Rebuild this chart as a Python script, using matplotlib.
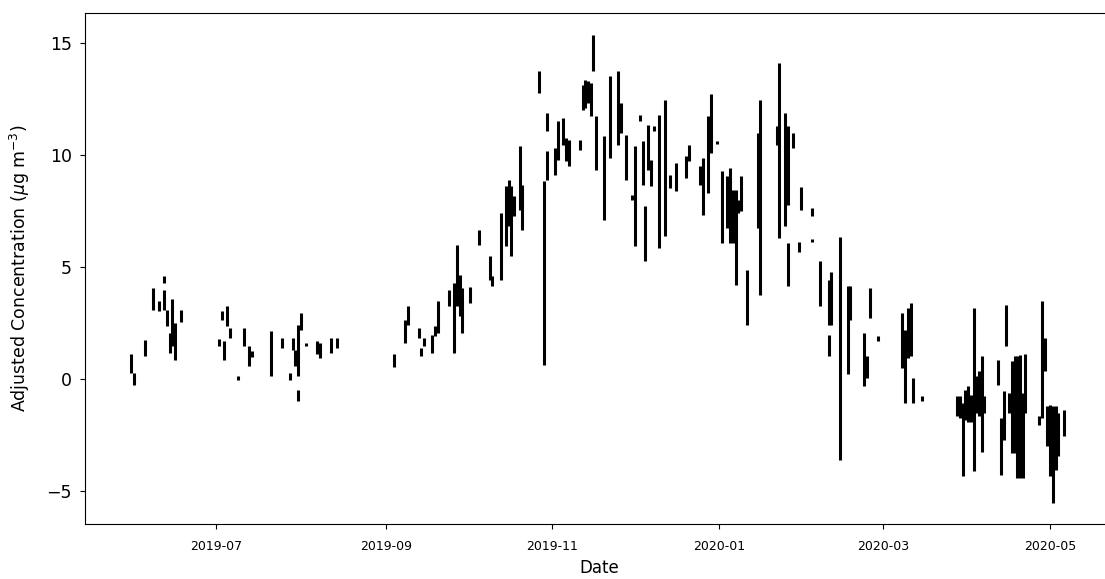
import matplotlib
matplotlib.use('Agg')
import matplotlib.pyplot as plt
import pandas as pd

# Daily spread of the hourly adjusted concentration (top and bottom of each day's trace)
seg_dates = [
    '2019-05-31', '2019-06-01', '2019-06-05', '2019-06-08', '2019-06-10', '2019-06-12',
    '2019-06-12', '2019-06-13', '2019-06-14', '2019-06-15', '2019-06-16', '2019-06-18',
    '2019-07-02', '2019-07-03', '2019-07-04', '2019-07-05', '2019-07-06', '2019-07-09',
    '2019-07-11', '2019-07-13', '2019-07-14', '2019-07-21', '2019-07-25', '2019-07-28',
    '2019-07-29', '2019-07-30', '2019-07-31', '2019-07-31', '2019-08-01', '2019-08-03',
    '2019-08-07', '2019-08-08', '2019-08-12', '2019-08-14', '2019-09-04', '2019-09-08',
    '2019-09-09', '2019-09-13', '2019-09-14', '2019-09-15', '2019-09-18', '2019-09-19',
    '2019-09-20', '2019-09-24', '2019-09-26', '2019-09-27', '2019-09-28', '2019-09-29',
    '2019-10-02', '2019-10-05', '2019-10-09', '2019-10-10', '2019-10-13', '2019-10-15',
    '2019-10-16', '2019-10-17', '2019-10-18', '2019-10-20', '2019-10-21', '2019-10-27',
    '2019-10-29', '2019-10-30', '2019-10-30', '2019-11-02', '2019-11-03', '2019-11-05',
    '2019-11-06', '2019-11-07', '2019-11-11', '2019-11-12', '2019-11-13', '2019-11-14',
    '2019-11-15', '2019-11-16', '2019-11-17', '2019-11-20', '2019-11-22', '2019-11-25',
    '2019-11-26', '2019-11-28', '2019-11-30', '2019-12-01', '2019-12-03', '2019-12-04',
    '2019-12-05', '2019-12-06', '2019-12-07', '2019-12-08', '2019-12-10', '2019-12-12',
    '2019-12-14', '2019-12-16', '2019-12-20', '2019-12-21', '2019-12-25', '2019-12-26',
    '2019-12-28', '2019-12-29', '2019-12-31', '2020-01-02', '2020-01-04', '2020-01-05',
    '2020-01-06', '2020-01-07', '2020-01-08', '2020-01-09', '2020-01-11', '2020-01-15',
    '2020-01-16', '2020-01-22', '2020-01-23', '2020-01-25', '2020-01-26', '2020-01-26',
    '2020-01-28', '2020-01-30', '2020-01-31', '2020-02-04', '2020-02-04', '2020-02-07',
    '2020-02-10', '2020-02-10', '2020-02-11', '2020-02-14', '2020-02-17', '2020-02-18',
    '2020-02-23', '2020-02-24', '2020-02-25', '2020-02-28', '2020-03-08', '2020-03-09',
    '2020-03-10', '2020-03-11', '2020-03-12', '2020-03-15', '2020-03-28', '2020-03-29',
    '2020-03-30', '2020-03-31', '2020-04-01', '2020-04-02', '2020-04-03', '2020-04-04',
    '2020-04-05', '2020-04-06', '2020-04-07', '2020-04-12', '2020-04-13', '2020-04-14',
    '2020-04-15', '2020-04-16', '2020-04-17', '2020-04-18', '2020-04-19', '2020-04-20',
    '2020-04-21', '2020-04-22', '2020-04-27', '2020-04-28', '2020-04-29', '2020-04-30',
    '2020-05-01', '2020-05-02', '2020-05-03', '2020-05-04', '2020-05-06',
]
seg_high = [
    1.13, 0.27, 1.76, 4.06, 3.47, 4.58,
    3.99, 3.10, 2.05, 3.57, 2.50, 3.10,
    1.79, 3.02, 1.68, 3.24, 2.28, 0.12,
    2.28, 1.46, 1.24, 2.13, 1.83, 0.27,
    1.83, 1.31, 2.43, -0.48, 2.95, 1.60,
    1.68, 1.60, 1.83, 1.83, 1.10, 2.65,
    3.24, 2.28, 1.38, 1.83, 1.98, 2.35,
    3.47, 3.99, 4.29, 6.00, 4.66, 4.06,
    4.11, 6.67, 5.48, 4.58, 7.41, 8.60,
    8.90, 8.60, 8.15, 10.39, 8.68, 13.73,
    8.82, 11.88, 10.16, 10.31, 11.50, 11.65,
    10.76, 10.68, 10.68, 13.14, 13.36, 13.29,
    13.21, 15.37, 11.73, 10.83, 13.51, 13.73,
    12.32, 10.91, 8.23, 10.39, 11.79, 10.61,
    7.71, 11.35, 9.79, 11.28, 11.80, 12.44,
    9.12, 9.64, 9.94, 10.46, 9.49, 9.87,
    11.73, 12.74, 10.64, 9.27, 9.05, 9.42,
    8.45, 8.45, 8.00, 9.05, 4.88, 10.98,
    12.47, 11.28, 14.10, 11.88, 11.28, 6.07,
    10.98, 6.10, 8.57, 7.63, 6.26, 5.25,
    4.43, 1.98, 4.76, 6.34, 4.14, 4.14,
    2.05, 1.01, 4.05, 1.93, 2.95, 2.20,
    3.18, 3.39, 0.04, -0.74, -0.77, -0.77,
    -1.07, -0.48, -0.33, -0.70, 3.17, 0.12,
    0.34, 1.01, -0.77, 0.86, -1.74, -0.55,
    3.32, -0.63, 0.79, 1.01, 1.01, 1.09,
    -0.63, 1.13, -1.67, 3.47, 1.83, -1.22,
    -1.15, -1.22, -1.22, -1.52, -1.37,
]
seg_low = [
    0.27, -0.25, 1.01, 3.10, 3.02, 4.29,
    3.10, 2.35, 1.16, 1.46, 0.86, 2.53,
    1.46, 2.65, 0.86, 2.35, 1.83, -0.03,
    1.46, 0.60, 1.00, 0.12, 1.38, -0.03,
    1.31, 0.57, 0.12, -1.00, 2.20, 1.46,
    1.10, 0.94, 1.16, 1.38, 0.55, 1.60,
    2.43, 1.83, 1.01, 1.46, 1.16, 1.90,
    2.05, 3.24, 1.16, 3.24, 2.80, 2.05,
    3.39, 6.00, 4.43, 4.14, 4.43, 5.92,
    6.82, 5.48, 7.26, 7.56, 6.67, 12.77,
    0.64, 11.06, 8.90, 9.12, 9.79, 10.46,
    9.72, 9.49, 10.24, 12.02, 12.10, 12.32,
    11.73, 13.73, 9.35, 7.11, 9.87, 10.46,
    10.98, 8.90, 8.00, 5.92, 11.50, 8.68,
    5.25, 9.35, 8.60, 11.06, 5.85, 6.37,
    8.53, 8.38, 8.97, 9.72, 8.68, 7.34,
    8.30, 10.09, 10.49, 6.07, 6.74, 6.07,
    6.07, 4.21, 7.41, 7.49, 2.43, 6.74,
    3.76, 10.46, 6.29, 6.82, 7.78, 4.14,
    10.31, 5.65, 7.56, 7.29, 6.10, 3.24,
    2.43, 1.01, 2.43, -3.63, 0.24, 2.65,
    -0.33, 0.04, 2.72, 1.68, 0.49, -1.07,
    0.94, 1.01, -1.07, -1.00, -1.67, -1.74,
    -4.35, -1.82, -1.90, -1.90, -4.12, -1.52,
    -1.67, -3.24, -1.52, -0.25, -4.27, -2.71,
    1.46, -1.52, -3.30, -3.30, -4.42, -4.42,
    -4.42, -1.52, -2.04, -1.74, 0.34, -3.00,
    -4.35, -5.54, -4.05, -3.45, -2.56,
]

dates = pd.to_datetime(seg_dates)

fig = plt.figure(figsize=(11.05, 5.79), dpi=100)
ax = fig.add_axes([0.0769, 0.095, 0.9303, 0.8826])

ax.vlines(dates, seg_low, seg_high, colors='k', linewidth=2.2)

ax.set_xlim(pd.Timestamp('2019-05-14'), pd.Timestamp('2020-05-24'))
ax.set_ylim(-6.47, 16.34)

ax.set_ylabel(r'Adjusted Concentration ($\mu$g m$^{-3}$)', fontsize=12.5, labelpad=10)
ax.set_xlabel('Date', fontsize=12, labelpad=4)
ax.tick_params(axis='y', labelsize=12.5, pad=6)
ax.tick_params(axis='x', labelsize=9, pad=8)

fig.savefig('out.png', dpi=100)
